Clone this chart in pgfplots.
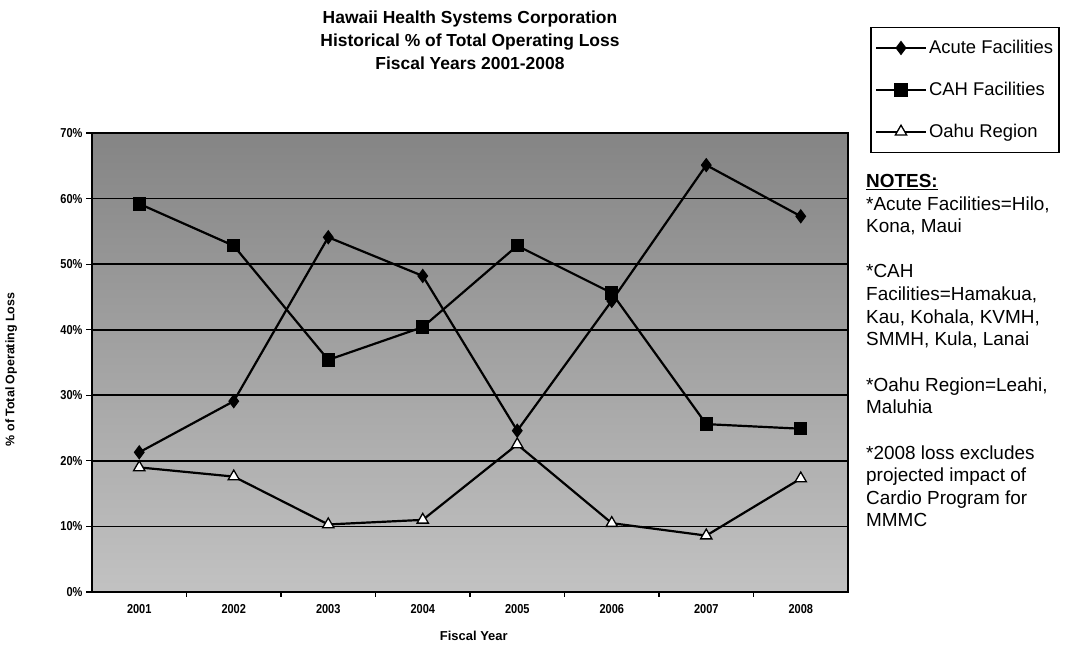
\documentclass[border=0pt]{standalone}
\usepackage{pgfplots}
\pgfplotsset{compat=1.18}
\usepackage{fontspec}
\setmainfont{Liberation Sans}
\newfontfamily\cb[FakeStretch=0.85]{Liberation Sans Bold}
\begin{document}
\begin{tikzpicture}[x=1bp,y=1bp]
\useasboundingbox (0,0) rectangle (1068,646);
\begin{axis}[
  at={(92bp,54bp)}, anchor=south west,
  width=756bp, height=459bp, scale only axis,
  xmin=-0.5, xmax=7.5, ymin=0, ymax=70,
  axis line style={black, line width=1.8bp},
  axis background/.style={shade, top color=black!48, middle color=black!42, bottom color=black!24},
  tick align=outside,
  xtick pos=bottom, ytick pos=left,
  xtick={0,1,2,3,4,5,6,7},
  xticklabels={2001,2002,2003,2004,2005,2006,2007,2008},
  major x tick style={draw=none},
  minor xtick={0.5,1.5,2.5,3.5,4.5,5.5,6.5},
  minor x tick style={black, line width=1.2bp},
  minor tick length=5bp,
  ytick={0,10,20,30,40,50,60,70},
  yticklabel={\pgfmathprintnumber{\tick}\%},
  major tick length=6bp,
  y tick style={black, line width=1.2bp},
  ymajorgrids,
  grid style={black, line width=1.6bp},
  /pgf/number format/assume math mode=true,
  xticklabel style={font=\cb\fontsize{13}{14}\selectfont, yshift=-3bp},
  yticklabel style={font=\cb\fontsize{13}{14}\selectfont},
  xlabel={Fiscal Year},
  ylabel={\% of Total Operating Loss},
  xlabel style={font=\bfseries\fontsize{13}{15}\selectfont, at={(axis description cs:0.505,-0.096)}, anchor=center},
  ylabel style={font=\bfseries\fontsize{12.5}{15}\selectfont, at={(axis description cs:-0.107,0.485)}, anchor=center},
  legend style={at={(axis description cs:1.0295,1.231)}, anchor=north west,
    draw=black, line width=1.2bp, font=\fontsize{18.5}{21}\selectfont,
    row sep=23bp, inner xsep=4bp, inner ysep=11bp,
    nodes={inner sep=2bp}},
  legend cell align=left,
  legend image code/.code={\draw[mark repeat=2,mark phase=2] plot coordinates {(0bp,0bp)(25bp,0bp)(50bp,0bp)};},
]
\addplot[black, line width=2.2bp, mark=diamond*, mark size=6.5bp, mark options={fill=black, line width=1bp}] coordinates {
(0,21.3) (1,29.1) (2,54.1) (3,48.2) (4,24.6) (5,44.4) (6,65.1) (7,57.3)};
\addlegendentry{Acute Facilities}
\addplot[black, line width=2.2bp, mark=square*, mark size=6.2bp, mark options={fill=black, line width=1bp}] coordinates {
(0,59.2) (1,52.8) (2,35.4) (3,40.4) (4,52.8) (5,45.6) (6,25.6) (7,24.9)};
\addlegendentry{CAH Facilities}
\addplot[black, line width=2.2bp, mark=triangle*, mark size=6.5bp, mark options={fill=white, line width=1.3bp}] coordinates {
(0,19.0) (1,17.6) (2,10.3) (3,11.0) (4,22.5) (5,10.5) (6,8.6) (7,17.3)};
\addlegendentry{Oahu Region}
\end{axis}
\node[font=\bfseries\fontsize{17.5}{23}\selectfont, align=center, anchor=center] at (470,606)
  {Hawaii Health Systems Corporation\\Historical \% of Total Operating Loss\\Fiscal Years 2001-2008};
\node[font=\fontsize{19}{22.7}\selectfont, align=left, anchor=north west, inner sep=0pt] at (866,472)
  {\underline{\textbf{NOTES:}}\\
   *Acute Facilities=Hilo,\\
   Kona, Maui\\[22.7bp]
   *CAH\\
   Facilities=Hamakua,\\
   Kau, Kohala, KVMH,\\
   SMMH, Kula, Lanai\\[22.7bp]
   *Oahu Region=Leahi,\\
   Maluhia\\[22.7bp]
   *2008 loss excludes\\
   projected impact of\\
   Cardio Program for\\
   MMMC};
\end{tikzpicture}
\end{document}
